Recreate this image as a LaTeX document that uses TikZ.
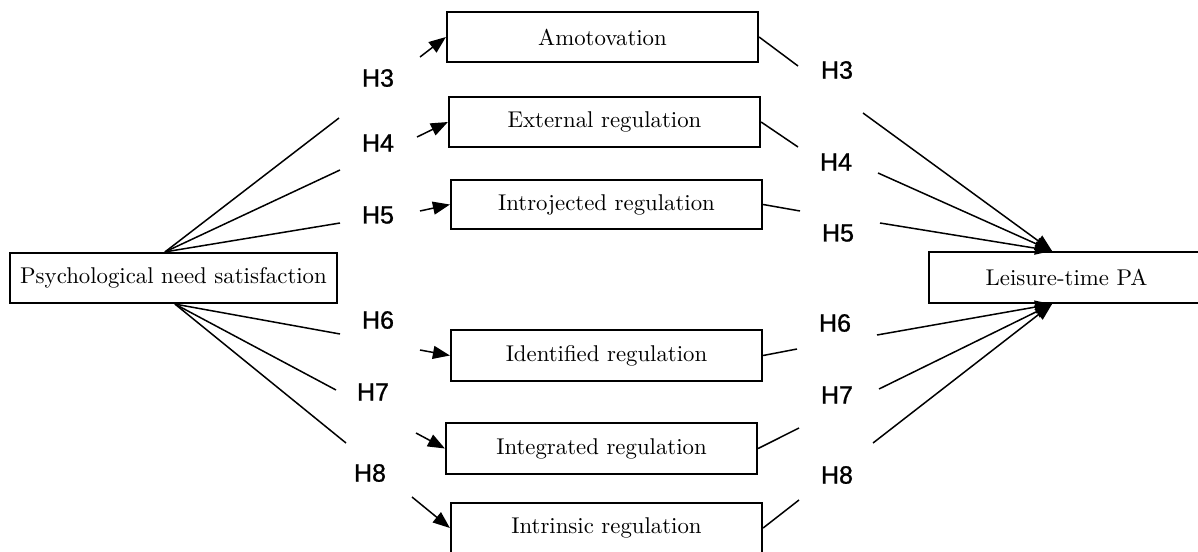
\documentclass[tikz,border=0pt]{standalone}
\usepackage{fontspec}
\newfontfamily\labfont{Liberation Sans}[FakeBold=1]
\newfontfamily\boxfont{lmroman10-regular}[Extension=.otf]
\usetikzlibrary{arrows.meta}
\begin{document}
\begin{tikzpicture}[x=1pt,y=-1pt,
  box/.style={draw, line width=2.2pt, minimum height=50pt, inner sep=0pt, font=\boxfont\fontsize{22.8}{27}\selectfont},
  hl/.style={font=\labfont\fontsize{25}{30}\selectfont, inner sep=0pt},
  ln/.style={line width=1.5pt},
  arr/.style={line width=1.5pt, -{Triangle[length=17pt,width=13pt]}}]
\useasboundingbox (0,0) rectangle (1198,551);
% boxes
\node[box, minimum width=327pt] (psy) at (173.5,278) {Psychological need satisfaction};
\node[box, minimum width=311pt] (amo) at (602.5,37) {Amotovation};
\node[box, minimum width=311pt] (ext) at (604.5,122) {External regulation};
\node[box, minimum width=311pt, minimum height=49pt] (intro) at (606.5,204.5) {Introjected regulation};
\node[box, minimum width=311pt, minimum height=51pt] (ident) at (606.5,355.5) {Identified regulation};
\node[box, minimum width=311pt, minimum height=51pt] (integ) at (601.5,448.5) {Integrated regulation};
\node[box, minimum width=311pt] (intr) at (606.5,528) {Intrinsic regulation};
\node[box, minimum width=275pt, minimum height=51pt] (leis) at (1066.5,277.5) {Leisure-time PA};
% labels
\node[hl] (l3) at (378,78) {H3};
\node[hl] (l4) at (378,143) {H4};
\node[hl] (l5) at (378,215) {H5};
\node[hl] (l6) at (378,320) {H6};
\node[hl] (l7) at (373,392) {H7};
\node[hl] (l8) at (370,473) {H8};
\node[hl] (r3) at (837,70) {H3};
\node[hl] (r4) at (836,162) {H4};
\node[hl] (r5) at (838,233) {H5};
\node[hl] (r6) at (835,323) {H6};
\node[hl] (r7) at (837,395) {H7};
\node[hl] (r8) at (837,475) {H8};
% anchor points
\coordinate (pu) at ([xshift=-8.5pt]psy.north);
\coordinate (pd) at ([xshift=1.5pt]psy.south);
\coordinate (lt) at ([xshift=-14.5pt]leis.north);
\coordinate (lb) at ([xshift=-14.5pt]leis.south);
% left segment ends
\coordinate (a3) at (339,118); \coordinate (b3) at (420,57);
\coordinate (a4) at (340,170); \coordinate (b4) at (417,137);
\coordinate (a5) at (340,223); \coordinate (b5) at (420,211);
\coordinate (a6) at (340,334); \coordinate (b6) at (420,350);
\coordinate (a7) at (336,390); \coordinate (b7) at (416,433);
\coordinate (a8) at (346,443); \coordinate (b8) at (412,497);
% right segment ends
\coordinate (c3) at (798,66);  \coordinate (d3) at (863,113);
\coordinate (c4) at (798,147); \coordinate (d4) at (878,173);
\coordinate (c5) at (800,211); \coordinate (d5) at (880,223);
\coordinate (c6) at (797,349); \coordinate (d6) at (877,335);
\coordinate (c7) at (799,428); \coordinate (d7) at (879,389);
\coordinate (c8) at (799,500); \coordinate (d8) at (873,443);
% left connectors
\draw[ln] (pu) -- (a3); \draw[arr] (b3) -- (amo.west);
\draw[ln] (pu) -- (a4); \draw[arr] (b4) -- (ext.west);
\draw[ln] (pu) -- (a5); \draw[arr] (b5) -- (intro.west);
\draw[ln] (pd) -- (a6); \draw[arr] (b6) -- (ident.west);
\draw[ln] (pd) -- (a7); \draw[arr] (b7) -- (integ.west);
\draw[ln] (pd) -- (a8); \draw[arr] (b8) -- (intr.west);
% right connectors
\draw[ln] (amo.east) -- (c3); \draw[arr] (d3) -- (lt);
\draw[ln] (ext.east) -- (c4); \draw[arr] (d4) -- (lt);
\draw[ln] (intro.east) -- (c5); \draw[arr] (d5) -- (lt);
\draw[ln] (ident.east) -- (c6); \draw[arr] (d6) -- (lb);
\draw[ln] (integ.east) -- (c7); \draw[arr] (d7) -- (lb);
\draw[ln] (intr.east) -- (c8); \draw[arr] (d8) -- (lb);
\end{tikzpicture}
\end{document}
